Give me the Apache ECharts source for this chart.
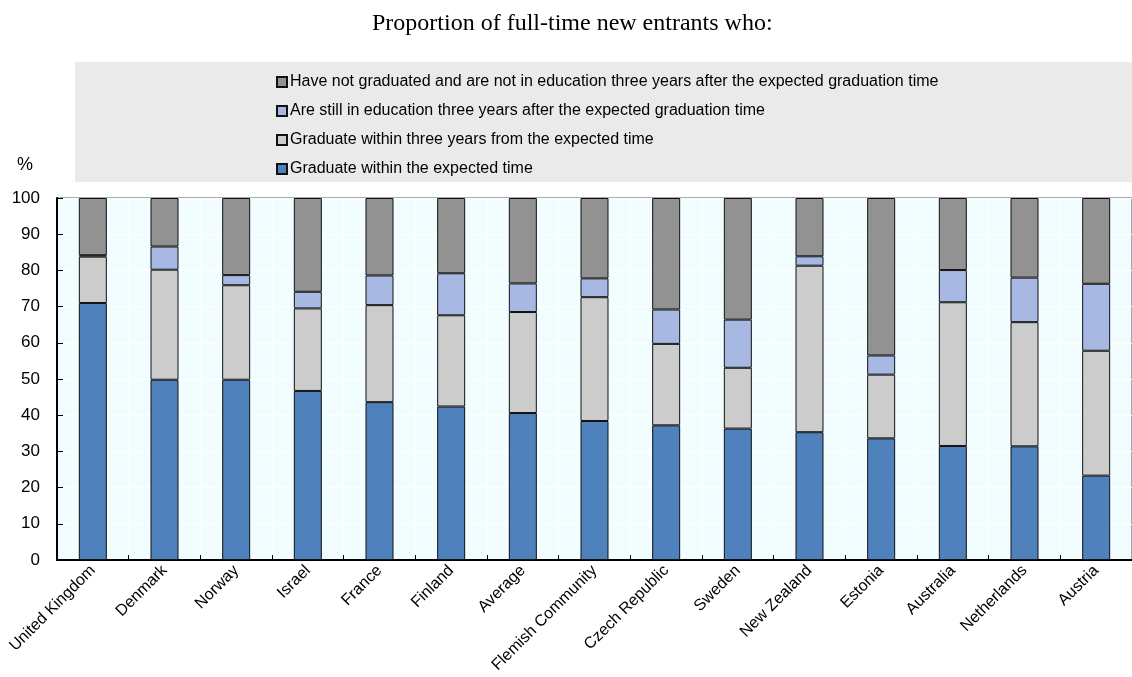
<!DOCTYPE html>
<html>
<head>
<meta charset="utf-8">
<script src="https://cdn.jsdelivr.net/npm/echarts@6/dist/echarts.min.js"></script>
<style>html,body{margin:0;padding:0;background:#fff}#c{width:1132px;height:677px}</style>
</head>
<body>
<div id="c"></div>
<script>
const categories = ['United Kingdom','Denmark','Norway','Israel','France','Finland','Average','Flemish Community','Czech Republic','Sweden','New Zealand','Estonia','Australia','Netherlands','Austria'];
const gradExpected   = [71.0, 49.8, 49.8, 46.7, 43.6, 42.4, 40.6, 38.4, 37.2, 36.3, 35.3, 33.6, 31.5, 31.4, 23.3];
const gradWithin3    = [12.8, 30.4, 26.1, 22.8, 26.8, 25.2, 27.9, 34.2, 22.5, 16.8, 46.0, 17.6, 39.7, 34.3, 34.5];
const stillInEdu     = [ 0.4,  6.4,  2.8,  4.6,  8.2, 11.6,  7.9,  5.2,  9.5, 13.3,  2.6,  5.3,  8.9, 12.3, 18.5];
const notGradNotEdu  = [15.8, 13.4, 21.3, 25.9, 21.4, 20.8, 23.6, 22.2, 30.8, 33.6, 16.1, 43.5, 19.9, 22.0, 23.7];
const seriesNames = [
  'Graduate within the expected time',
  'Graduate within three years from the expected time',
  'Are still in education three years after the expected graduation time',
  'Have not graduated and are not in education three years after the expected graduation time'
];
const yTicks = [0,10,20,30,40,50,60,70,80,90,100];

const narrow = "'Liberation Sans Narrow','Arial Narrow','Liberation Sans',Arial,sans-serif";
const colors = ['#4F81BD','#CCCCCC','#A7B9E3','#929292'];
const dataSets = [gradExpected, gradWithin3, stillInEdu, notGradNotEdu];

const chart = echarts.init(document.getElementById('c'));
chart.setOption({
  animation: false,
  title: {
    text: 'Proportion of full-time new entrants who:',
    left: 367, top: 7,
    textStyle: {fontFamily: "'Liberation Serif','Times New Roman',serif", fontSize: 24, fontWeight: 'normal', color: '#000'}
  },
  graphic: [
    {type: 'rect', left: 75, top: 62, shape: {width: 1060, height: 120}, style: {fill: '#EAEAEA'}, z: -10},
    {type: 'text', left: 17, top: 156, style: {text: '%', font: "18px 'Liberation Sans',Arial,sans-serif", fill: '#000'}}
  ],
  legend: {
    orient: 'vertical', left: 271, top: 69,
    data: [seriesNames[3], seriesNames[2], seriesNames[1], seriesNames[0]],
    icon: 'rect', itemWidth: 10, itemHeight: 10, itemGap: 13,
    textStyle: {fontFamily: narrow, fontSize: 16, color: '#000', padding: [0,0,0,-2]}
  },
  grid: {
    left: 57, right: -10, top: 198, bottom: 117,
    show: true, backgroundColor: '#F2FDFF', borderColor: '#555', borderWidth: 1
  },
  xAxis: {
    type: 'category', data: categories,
    axisLine: {lineStyle: {color: '#000', width: 2}},
    axisTick: {show: true, inside: true, length: 5, lineStyle: {color: '#000'}},
    splitLine: {show: true, lineStyle: {color: '#FFFFFF', width: 1}},
    axisLabel: {rotate: 45, fontFamily: narrow, fontSize: 16, color: '#000', margin: 8, interval: 0}
  },
  yAxis: {
    type: 'value', min: 0, max: 100, interval: 10,
    axisLine: {show: true, lineStyle: {color: '#000', width: 2}},
    axisTick: {show: true, inside: true, length: 6, lineStyle: {color: '#000'}},
    splitLine: {show: true, lineStyle: {color: '#FFFFFF', width: 1}},
    axisLabel: {fontFamily: narrow, fontSize: 17, color: '#000', margin: 17,
      formatter: v => yTicks.includes(v) ? String(v) : ''}
  },
  series: dataSets.map((d, i) => ({
    name: seriesNames[i], type: 'bar', stack: 'total', data: d,
    barWidth: 28,
    itemStyle: {color: colors[i], borderColor: '#111', borderWidth: 1}
  }))
});
</script>
</body>
</html>
